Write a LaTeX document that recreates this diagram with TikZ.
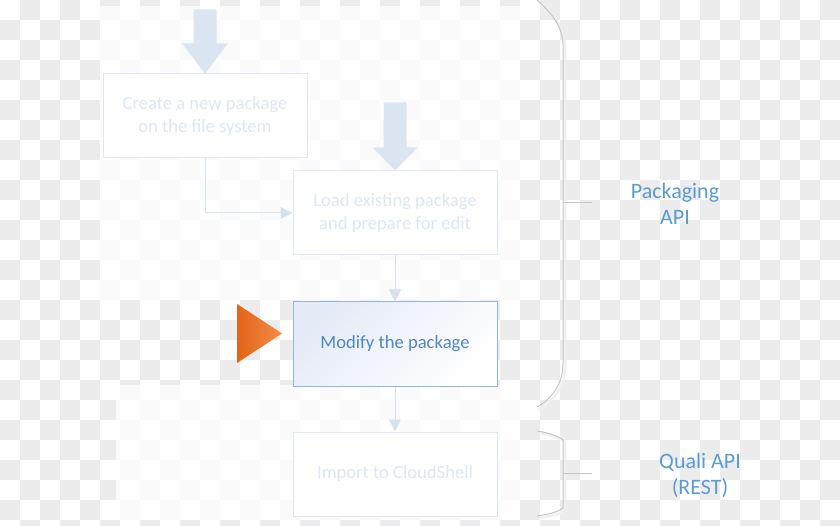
\documentclass[tikz,border=0pt]{standalone}
\usepackage{fontspec}
\setmainfont{Carlito}
\usepackage{xcolor}
\definecolor{checkgray}{RGB}{236, 236, 236}
\definecolor{faintblue}{RGB}{222, 231, 243}
\definecolor{faintline}{RGB}{214, 226, 240}
\definecolor{bigarrowblue}{RGB}{219, 229, 241}
\definecolor{activeline}{RGB}{146, 182, 221}
\definecolor{activetext}{RGB}{78, 134, 198}
\definecolor{activefill}{RGB}{228, 234, 246}
\definecolor{labelblue}{RGB}{91, 155, 213}
\definecolor{bracegray}{RGB}{196, 198, 202}
\definecolor{markerdeep}{RGB}{228, 100, 24}
\definecolor{markerlight}{RGB}{241, 140, 72}
\usetikzlibrary{
  arrows.meta,
  positioning,
  calc
}

\begin{document}
\begin{tikzpicture}[x=1pt, y=-1pt,
  stepbox/.style={draw=faintblue, fill=white, line width=1pt, minimum width=204pt,
    minimum height=84pt, align=center, text=faintblue,
    font=\fontsize{18.6}{23}\selectfont},
  activebox/.style={stepbox, draw=activeline, text=activetext,
    left color=activefill, right color=white, shading angle=45},
  flow/.style={draw=faintline, line width=1pt,
    -{Triangle[width=12pt, length=12pt]}},
  bigarrow/.style={fill=bigarrowblue},
  apilabel/.style={align=center, text=labelblue, font=\fontsize{22}{26}\selectfont},
  bracket/.style={draw=bracegray, line width=1pt},
  bracketshadow/.style={draw=black!6, line width=2.5pt}
]

  % transparent background, checkerboard
  \clip (0, 0) rectangle (840, 526);
  \fill[white] (0, 0) rectangle (840, 526);
  \foreach \i in {0,...,41} {
    \foreach \j in {0,...,26} {
      \pgfmathtruncatemacro\oddsq{mod(\i+\j,2)}
      \ifnum\oddsq=1 \fill[checkgray] (20*\i, 20*\j) rectangle ++(20, 20); \fi
    }
  }

  % half transparent slide panels
  \fill[white, opacity=0.74] (100, 6) rectangle (520, 300);
  \fill[white, opacity=0.74] (116, 385) rectangle (520, 520);

  % the steps
  \node[stepbox] (create) at (205, 116) {Create a new package\\on the file system};
  \node[stepbox] (load) at (395, 213) {Load existing package\\and prepare for edit};
  \node[activebox] (modify) at (395, 344) {Modify the package};
  \node[stepbox] (import) at (395, 474) {Import to CloudShell};

  % entry arrows
  \fill[bigarrow] (create.north) -- ++(-23, -30) -- ++(11.5, 0) -- ++(0, -34)
    -- ++(23, 0) -- ++(0, 34) -- ++(11.5, 0) -- cycle;
  \fill[bigarrow] (load.north) -- ++(-22.5, -23) -- ++(11, 0) -- ++(0, -45)
    -- ++(23, 0) -- ++(0, 45) -- ++(11, 0) -- cycle;

  % connectors
  \draw[flow] (create.south) |- (load.west);
  \draw[flow] (load.south) -- (modify.north);
  \draw[flow] (modify.south) -- (import.north);

  % current step marker
  \shade[left color=markerdeep, right color=markerlight]
    (237, 304) -- (282, 333.5) -- (237, 363) -- cycle;

  % braces
  \draw[bracketshadow] (539, 2) .. controls (555, 16) and (565, 30) .. (565, 47)
    -- (565, 365) .. controls (565, 385) and (555, 400) .. (539, 409);
  \draw[bracket] (537, 0) .. controls (553, 14) and (563, 28) .. (563, 45)
    -- (563, 363) .. controls (563, 383) and (553, 398) .. (537, 407);
  \coordinate (bigtip) at (563, 203);
  \draw[bracket] (bigtip) -- ++(29, 0);

  \draw[bracketshadow] (539, 433) .. controls (552, 435) and (560, 438) .. (565, 442)
    -- (565, 510) .. controls (560, 514) and (552, 516) .. (539, 518);
  \draw[bracket] (537, 431) .. controls (550, 433) and (558, 436) .. (563, 440)
    -- (563, 508) .. controls (558, 512) and (550, 514) .. (537, 516);
  \coordinate (smalltip) at (563, 473);
  \draw[bracket] (smalltip) -- ++(29, 0);

  % api labels
  \node[apilabel] (pkgapi) at (675, 204) {Packaging\\API};
  \node[apilabel] (qualiapi) at (700, 475) {Quali API\\(REST)};

\end{tikzpicture}
\end{document}
